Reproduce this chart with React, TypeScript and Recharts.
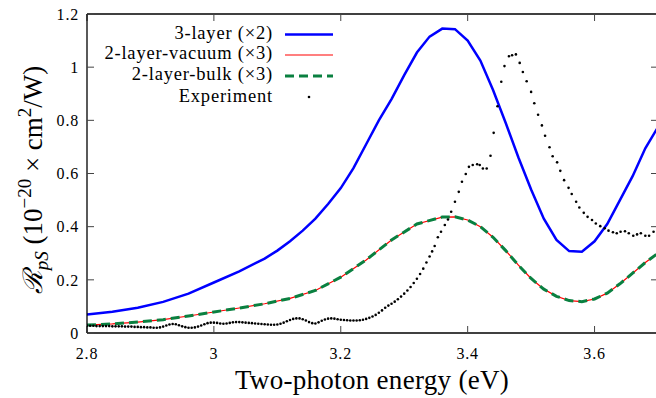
import React from 'react';
import { ComposedChart, Line, Scatter, XAxis, YAxis } from 'recharts';

// 3-layer model (x2)
const energies3Layer = [2.8, 2.84, 2.88, 2.92, 2.96, 3.0, 3.04, 3.08, 3.1, 3.12, 3.14, 3.16, 3.18, 3.2, 3.22, 3.24, 3.26, 3.28, 3.3, 3.32, 3.34, 3.36, 3.38, 3.4, 3.42, 3.44, 3.46, 3.48, 3.5, 3.52, 3.54, 3.56, 3.58, 3.6, 3.62, 3.64, 3.66, 3.68, 3.7];
const values3Layer = [0.07, 0.08, 0.095, 0.117, 0.148, 0.19, 0.232, 0.28, 0.31, 0.345, 0.385, 0.43, 0.485, 0.545, 0.62, 0.71, 0.8, 0.88, 0.97, 1.055, 1.115, 1.145, 1.143, 1.1, 1.025, 0.914, 0.79, 0.66, 0.54, 0.43, 0.35, 0.308, 0.306, 0.345, 0.41, 0.5, 0.59, 0.695, 0.775];

// 2-layer models (x3)
const energies2Layer = [2.8, 2.84, 2.88, 2.92, 2.96, 3.0, 3.04, 3.08, 3.12, 3.16, 3.2, 3.24, 3.28, 3.32, 3.36, 3.38, 3.4, 3.42, 3.44, 3.46, 3.48, 3.5, 3.52, 3.54, 3.56, 3.58, 3.6, 3.62, 3.64, 3.66, 3.68, 3.7];
const valuesVacuum = [0.03, 0.034, 0.041, 0.05, 0.064, 0.079, 0.094, 0.11, 0.13, 0.16, 0.21, 0.275, 0.35, 0.41, 0.436, 0.437, 0.425, 0.4, 0.36, 0.31, 0.255, 0.205, 0.165, 0.138, 0.122, 0.118, 0.128, 0.15, 0.185, 0.225, 0.265, 0.3];
const valuesBulk = [0.03, 0.034, 0.041, 0.05, 0.064, 0.079, 0.094, 0.11, 0.13, 0.16, 0.21, 0.275, 0.35, 0.41, 0.436, 0.437, 0.425, 0.4, 0.36, 0.31, 0.255, 0.205, 0.165, 0.138, 0.122, 0.118, 0.128, 0.15, 0.185, 0.225, 0.265, 0.3];

// experiment
const expEnergies = [
  2.8, 2.805, 2.81, 2.815, 2.82, 2.825, 2.83, 2.835, 2.84, 2.845, 2.85, 2.855, 2.86, 2.865, 2.87, 2.875, 2.88, 2.885, 2.89, 2.895,
  2.9, 2.905, 2.91, 2.915, 2.92, 2.925, 2.93, 2.935, 2.94, 2.945, 2.95, 2.955, 2.96, 2.965, 2.97, 2.975, 2.98, 2.985, 2.99, 2.995,
  3.0, 3.005, 3.01, 3.015, 3.02, 3.025, 3.03, 3.035, 3.04, 3.045, 3.05, 3.055, 3.06, 3.065, 3.07, 3.075, 3.08, 3.085, 3.09, 3.095,
  3.1, 3.105, 3.11, 3.115, 3.12, 3.125, 3.13, 3.135, 3.14, 3.145, 3.15, 3.155, 3.16, 3.165, 3.17, 3.175, 3.18, 3.185, 3.19, 3.195,
  3.2, 3.205, 3.21, 3.215, 3.22, 3.225, 3.23, 3.235, 3.24, 3.245, 3.25, 3.255, 3.26, 3.265, 3.27, 3.275, 3.28, 3.285, 3.29, 3.295,
  3.3, 3.305, 3.31, 3.315, 3.32, 3.325, 3.33, 3.335, 3.34, 3.344, 3.348, 3.353, 3.358, 3.364, 3.369, 3.374, 3.38, 3.386, 3.391, 3.397,
  3.402, 3.408, 3.415, 3.419, 3.424, 3.43, 3.436, 3.441, 3.447, 3.453, 3.458, 3.465, 3.47, 3.476, 3.482, 3.487, 3.493, 3.5, 3.505, 3.511,
  3.517, 3.522, 3.529, 3.534, 3.541, 3.546, 3.552, 3.559, 3.564, 3.571, 3.576, 3.583, 3.589, 3.596, 3.602, 3.609, 3.616, 3.622, 3.629, 3.635,
  3.641, 3.648, 3.654, 3.661, 3.667, 3.673, 3.68, 3.686, 3.693, 3.699,
];
const expValues = [
  0.027, 0.027, 0.027, 0.026, 0.026, 0.026, 0.026, 0.026, 0.025, 0.025, 0.025, 0.025, 0.024, 0.024, 0.024, 0.023, 0.023, 0.022, 0.022, 0.021,
  0.021, 0.02, 0.02, 0.021, 0.024, 0.028, 0.032, 0.034, 0.033, 0.029, 0.025, 0.022, 0.02, 0.02, 0.021, 0.024, 0.028, 0.033, 0.037, 0.039,
  0.039, 0.038, 0.036, 0.035, 0.036, 0.038, 0.04, 0.041, 0.041, 0.04, 0.039, 0.038, 0.037, 0.036, 0.035, 0.034, 0.033, 0.032, 0.031, 0.031,
  0.032, 0.035, 0.039, 0.044, 0.049, 0.053, 0.055, 0.055, 0.052, 0.047, 0.041, 0.037, 0.036, 0.04, 0.046, 0.051, 0.054, 0.055, 0.054, 0.052,
  0.05, 0.049, 0.048, 0.047, 0.047, 0.047, 0.048, 0.05, 0.053, 0.057, 0.062, 0.068, 0.076, 0.085, 0.095, 0.103, 0.11, 0.118, 0.127, 0.137,
  0.148, 0.16, 0.173, 0.188, 0.204, 0.222, 0.242, 0.265, 0.288, 0.307, 0.327, 0.36, 0.381, 0.406, 0.427, 0.456, 0.494, 0.531, 0.569, 0.598,
  0.625, 0.632, 0.635, 0.632, 0.619, 0.619, 0.667, 0.753, 0.853, 0.945, 1.004, 1.041, 1.045, 1.048, 1.016, 0.982, 0.947, 0.907, 0.864, 0.821,
  0.781, 0.742, 0.699, 0.665, 0.642, 0.61, 0.575, 0.546, 0.523, 0.494, 0.472, 0.452, 0.437, 0.425, 0.412, 0.402, 0.394, 0.385, 0.379, 0.375,
  0.381, 0.383, 0.375, 0.366, 0.371, 0.375, 0.366, 0.366, 0.381, 0.385,
];

const xTicks = [2.8, 3, 3.2, 3.4, 3.6];
const yTicks = [0, 0.2, 0.4, 0.6, 0.8, 1, 1.2];

const legendItems = ['3-layer (×2)', '2-layer-vacuum (×3)', '2-layer-bulk (×3)', 'Experiment'];

const zip = (xs: number[], ys: number[]) => xs.map((x, i) => ({ x, y: ys[i] }));

const data3Layer = zip(energies3Layer, values3Layer);
const dataVacuum = zip(energies2Layer, valuesVacuum);
const dataBulk = zip(energies2Layer, valuesBulk);
const dataExp = zip(expEnergies, expValues);

const FONT = 'Liberation Serif';
const tickStyle = { fill: '#000', fontSize: 16, fontFamily: FONT, letterSpacing: 0.8 };

const Dot = (props: any) => <circle cx={props.cx} cy={props.cy} r={1.3} fill="#000" />;

const YTitle = () => (
  <text transform="rotate(-90)" x={-180} y={42} textAnchor="middle" fontSize={27} fill="#000" style={{ fontFamily: FONT }}>
    <tspan fontStyle="italic">ℛ</tspan>
    <tspan fontStyle="italic" fontSize={19} dy={6}>pS</tspan>
    <tspan dy={-6}> (10</tspan>
    <tspan fontSize={19} dy={-11}>−20</tspan>
    <tspan dy={11}> × cm</tspan>
    <tspan fontSize={19} dy={-11}>2</tspan>
    <tspan dy={11}>/W)</tspan>
  </text>
);

const XTitle = () => (
  <text x={372} y={389} textAnchor="middle" fontSize={27} letterSpacing={0.3} fill="#000" style={{ fontFamily: FONT }}>
    Two-photon energy (eV)
  </text>
);

function LegendBox() {
  const rowTops = [23, 43, 64, 86];
  return (
    <div style={{ position: 'absolute', left: 0, top: 0, fontFamily: FONT, fontSize: 18.5, letterSpacing: 0.8, color: '#000' }}>
      {legendItems.map((label, i) => (
        <div key={label} style={{ position: 'absolute', top: rowTops[i], left: 20, width: 253, height: 21, lineHeight: '21px', textAlign: 'right', whiteSpace: 'nowrap' }}>
          {label}
        </div>
      ))}
      <svg width={360} height={110} style={{ position: 'absolute', left: 0, top: 0 }}>
        <line x1={285} x2={333} y1={34.5} y2={34.5} stroke="#0000ff" strokeWidth={2.5} />
        <line x1={285} x2={333} y1={55} y2={55} stroke="#ff0000" strokeWidth={1.2} />
        <line x1={285} x2={333} y1={76} y2={76} stroke="#0a8040" strokeWidth={3} strokeDasharray="9 5" />
        <circle cx={309} cy={97} r={1.3} fill="#000" />
      </svg>
    </div>
  );
}

export default function App() {
  return (
    <div style={{ position: 'absolute', left: 0, top: 0, width: 656, height: 398, overflow: 'hidden', background: '#fff', fontFamily: FONT }}>
      <ComposedChart width={662} height={398} margin={{ top: 13, right: 3, bottom: 0, left: 0 }}>
        <XAxis
          xAxisId="bottom"
          dataKey="x"
          type="number"
          domain={[2.8, 3.7]}
          ticks={xTicks}
          allowDataOverflow
          height={65}
          tickSize={-7}
          tickMargin={22}
          tick={tickStyle}
          axisLine={{ stroke: '#000', strokeWidth: 1.3 }}
          tickLine={{ stroke: '#444' }}
          label={{ content: () => <XTitle /> }}
        />
        <XAxis
          xAxisId="top"
          orientation="top"
          dataKey="x"
          type="number"
          domain={[2.8, 3.7]}
          ticks={xTicks}
          allowDataOverflow
          height={1}
          tickSize={-7}
          tickFormatter={() => ''}
          axisLine={{ stroke: '#000', strokeWidth: 1.3 }}
          tickLine={{ stroke: '#444' }}
        />
        <YAxis
          yAxisId="left"
          dataKey="y"
          type="number"
          domain={[0, 1.2]}
          ticks={yTicks}
          allowDataOverflow
          width={87}
          tickSize={-7}
          tickMargin={15}
          tick={tickStyle}
          axisLine={{ stroke: '#000', strokeWidth: 1.3 }}
          tickLine={{ stroke: '#444' }}
          label={{ content: () => <YTitle /> }}
        />
        <YAxis
          yAxisId="right"
          orientation="right"
          dataKey="y"
          type="number"
          domain={[0, 1.2]}
          ticks={yTicks}
          allowDataOverflow
          width={1}
          tickSize={-7}
          tickFormatter={() => ''}
          axisLine={{ stroke: '#000', strokeWidth: 1.3 }}
          tickLine={{ stroke: '#444' }}
        />
        <Line xAxisId="bottom" yAxisId="left" data={data3Layer} dataKey="y" type="linear" stroke="#0000ff" strokeWidth={2.5} dot={false} isAnimationActive={false} />
        <Line xAxisId="bottom" yAxisId="left" data={dataVacuum} dataKey="y" type="linear" stroke="#ff0000" strokeWidth={1.2} dot={false} isAnimationActive={false} />
        <Line xAxisId="bottom" yAxisId="left" data={dataBulk} dataKey="y" type="linear" stroke="#0a8040" strokeWidth={3} strokeDasharray="9 5" dot={false} isAnimationActive={false} />
        <Scatter xAxisId="bottom" yAxisId="left" data={dataExp} dataKey="y" shape={Dot} isAnimationActive={false} />
      </ComposedChart>
      <LegendBox />
    </div>
  );
}
